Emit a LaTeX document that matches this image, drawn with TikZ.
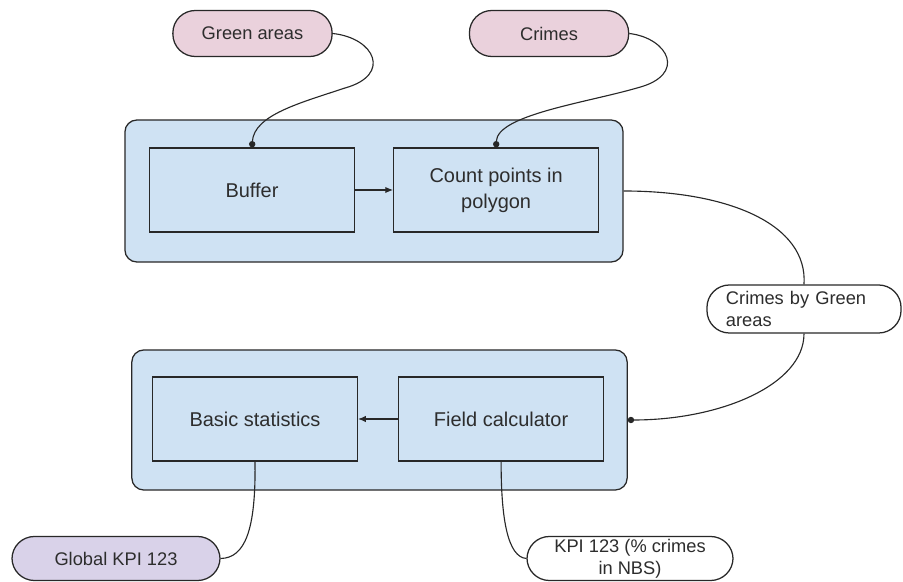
\documentclass[tikz,border=0pt]{standalone}
\usepackage{fontspec}
\setmainfont{Liberation Sans}
\usepackage{tikz}
\usetikzlibrary{arrows.meta, positioning}
\definecolor{myline}{RGB}{40,40,40}
\definecolor{mytext}{RGB}{45,45,45}
\definecolor{hdrblue}{RGB}{207,226,243}
\definecolor{hdrpink}{RGB}{234,209,220}
\definecolor{hdrlilac}{RGB}{217,210,233}
\tikzset{
  panel/.style={rectangle, draw=myline, fill=hdrblue, rounded corners=8.5pt,
    inner sep=0pt, line width=0.9pt},
  toolbox/.style={rectangle, draw=myline, fill=hdrblue, minimum width=5.12cm,
    minimum height=2.1cm, inner sep=0pt, align=center,
    font=\fontsize{14.2}{18.3}\selectfont, text=mytext, line width=0.9pt},
  pill/.style={rectangle, draw=myline, rounded corners=0.56cm, minimum height=1.15cm,
    inner sep=0pt, font=\fontsize{13}{15.6}\selectfont, text=mytext, line width=0.9pt},
  inpill/.style={pill, fill=hdrpink, minimum width=3.98cm},
  midpill/.style={pill, fill=white, minimum width=4.85cm, text width=3.9cm, align=left},
  outpill/.style={pill, fill=hdrlilac, minimum width=5.2cm},
  kpipill/.style={pill, fill=white, minimum width=5.15cm, align=center},
  arrow/.style={-{Latex[length=5.5pt,width=4.5pt]}, line width=0.8pt, color=myline},
  link/.style={-{Circle[length=4.5pt]}, line width=0.8pt, color=myline},
  line/.style={line width=0.8pt, color=myline}
}

\begin{document}
\begin{tikzpicture}[x=0.025cm, y=-0.025cm]
  \useasboundingbox (0,0) rectangle (903,582);

  % Panels
  \node[panel, minimum width=12.45cm, minimum height=3.55cm] (top) at (374,191) {};
  \node[panel, minimum width=12.38cm, minimum height=3.5cm] (bottom) at (379.5,420) {};

  % Tools
  \node[toolbox] (buffer) at (252,190) {Buffer};
  \node[toolbox, right=0.95cm of buffer] (count) {Count points in\\polygon};
  \node[toolbox] (basic) at (255,419) {Basic statistics};
  \node[toolbox, right=1cm of basic] (field) {Field calculator};

  % Data
  \node[inpill] (green) at (252.5,33.5) {Green areas};
  \node[inpill, right=3.4cm of green] (crimes) {Crimes};
  \node[midpill, minimum height=1.2cm] (cbg) at (804,309) {Crimes by Green\\areas};
  \node[outpill, minimum height=1.1cm] (global) at (116,558.5) {Global KPI 123};
  \node[kpipill, minimum height=1.1cm] (kpi) at (630,558.5) {KPI 123 (\% crimes\\in NBS)};

  % Connections
  \draw[link] (green.east) .. controls (375,38) and (392,75) .. (345,88)
    .. controls (300,103) and (254,115) .. (buffer.north);
  \draw[link] (crimes.east) .. controls (668,38) and (688,75) .. (637,88)
    .. controls (585,103) and (497,115) .. (count.north);
  \draw[arrow] (buffer) -- (count);
  \draw[line] (top.east) .. controls (730,191) and (808,225) .. (cbg.north);
  \draw[link] (cbg.south) .. controls (804,385) and (720,420) .. (bottom.east);
  \draw[arrow] (field) -- (basic);
  \draw[line] (basic.south) .. controls (256,530) and (245,558) .. (global.east);
  \draw[line] (field.south) .. controls (501,520) and (508,557) .. (kpi.west);

\end{tikzpicture}
\end{document}
